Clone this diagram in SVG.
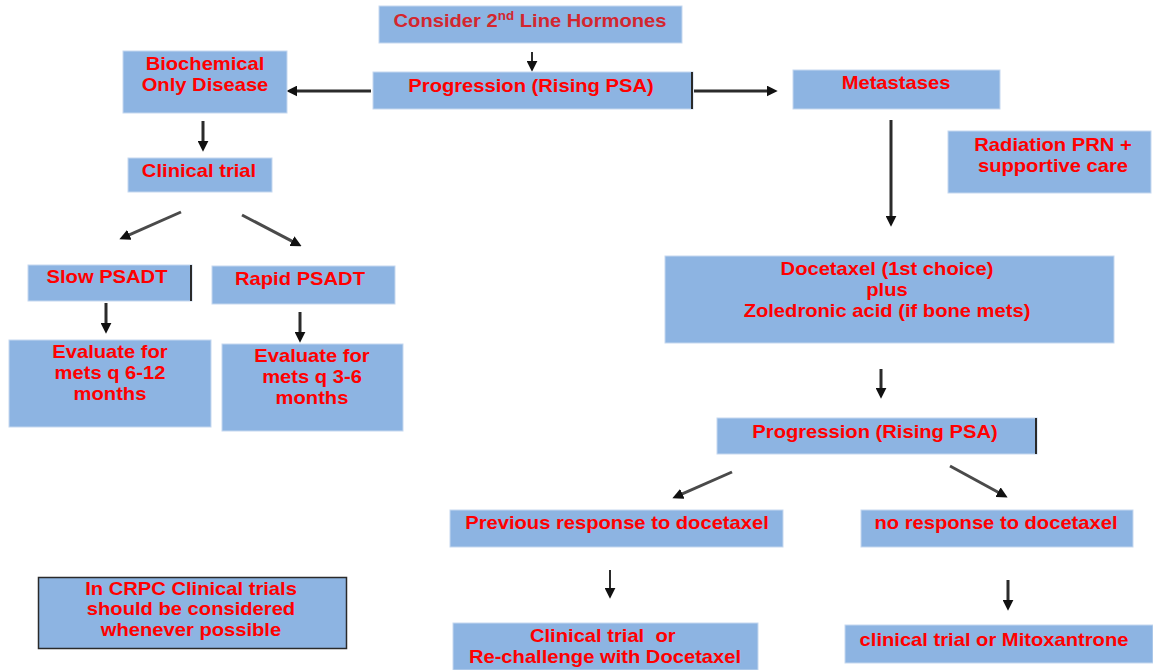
<svg xmlns="http://www.w3.org/2000/svg" width="1153" height="670" viewBox="0 0 1153 670">
<defs>
<marker id="ah" markerUnits="userSpaceOnUse" markerWidth="11" markerHeight="11" viewBox="0 0 10 10" refX="3" refY="5" orient="auto">
<path d="M0,0 L10,5 L0,10 z" fill="#111"/>
</marker>
<style>
.box{fill:#8DB4E2;stroke:#C5D8EF;stroke-width:1}
.t{font-family:"Liberation Sans",Arial,sans-serif;font-weight:bold;font-size:18px;fill:#FF0000;text-anchor:middle}
.t2{fill:#D4262E}
.edge{stroke:#2a2a2a;stroke-width:2;fill:none}
.c{stroke:#2b2b2b;stroke-width:3;fill:none;marker-end:url(#ah)}
.d{stroke:#4a4a4a;stroke-width:3;fill:none;marker-end:url(#ah)}
</style>
</defs>
<rect width="1153" height="670" fill="#ffffff"/>
<g id="connectors">
<path class="c" d="M532,52 L532,64" style="stroke-width:2"/>
<path class="c" d="M371,91 L294,91"/>
<path class="c" d="M694,91 L770,91"/>
<path class="c" d="M203,121 L203,144"/>
<path class="c" d="M891,120 L891,219"/>
<path class="d" d="M181,212 L126.4,236.2"/>
<path class="d" d="M242,215 L294.8,242.7"/>
<path class="c" d="M106,303 L106,326"/>
<path class="c" d="M300,312 L300,335"/>
<path class="c" d="M881,369 L881,391"/>
<path class="d" d="M732,472 L679.4,495.2"/>
<path class="d" d="M950,466 L1000.9,493.7"/>
<path class="c" d="M610,570 L610,591" style="stroke-width:2"/>
<path class="c" d="M1008,580 L1008,603"/>
</g>
<g id="n-consider">
<rect class="box" x="379" y="6" width="303" height="37"/>
<text class="t t2" transform="translate(530,27) scale(1.12,1)">Consider 2<tspan font-size="12" dy="-7">nd</tspan><tspan dy="7"> Line Hormones</tspan></text>
</g>
<g id="n-progression1">
<rect class="box" x="373" y="72" width="320" height="37"/>
<path class="edge" d="M692,72 L692,109"/>
<text class="t" transform="translate(531,92) scale(1.12,1)">Progression (Rising PSA)</text>
</g>
<g id="n-biochemical">
<rect class="box" x="123" y="51" width="164" height="62"/>
<text class="t" transform="translate(205,70) scale(1.12,1)"><tspan x="0" y="0">Biochemical</tspan><tspan x="0" y="21">Only Disease</tspan></text>
</g>
<g id="n-metastases">
<rect class="box" x="793" y="70" width="207" height="39"/>
<text class="t" transform="translate(896,89) scale(1.12,1)">Metastases</text>
</g>
<g id="n-radiation">
<rect class="box" x="948" y="131" width="203" height="62"/>
<text class="t" transform="translate(1053,151) scale(1.12,1)"><tspan x="0" y="0">Radiation PRN +</tspan><tspan x="0" y="21">supportive care</tspan></text>
</g>
<g id="n-clinical-trial">
<rect class="box" x="128" y="158" width="144" height="34"/>
<text class="t" transform="translate(199,177) scale(1.12,1)">Clinical trial</text>
</g>
<g id="n-slow">
<rect class="box" x="28" y="265" width="164" height="36"/>
<path class="edge" d="M191,265 L191,301"/>
<text class="t" transform="translate(107,283) scale(1.12,1)">Slow PSADT</text>
</g>
<g id="n-rapid">
<rect class="box" x="212" y="266" width="183" height="38"/>
<text class="t" transform="translate(300,285) scale(1.12,1)">Rapid PSADT</text>
</g>
<g id="n-eval-slow">
<rect class="box" x="9" y="340" width="202" height="87"/>
<text class="t" transform="translate(110,358) scale(1.12,1)"><tspan x="0" y="0">Evaluate for</tspan><tspan x="0" y="21">mets q 6-12</tspan><tspan x="0" y="42">months</tspan></text>
</g>
<g id="n-eval-rapid">
<rect class="box" x="222" y="344" width="181" height="87"/>
<text class="t" transform="translate(312,362) scale(1.12,1)"><tspan x="0" y="0">Evaluate for</tspan><tspan x="0" y="21">mets q 3-6</tspan><tspan x="0" y="42">months</tspan></text>
</g>
<g id="n-docetaxel">
<rect class="box" x="665" y="256" width="449" height="87"/>
<text class="t" transform="translate(887,275) scale(1.12,1)"><tspan x="0" y="0">Docetaxel (1st choice)</tspan><tspan x="0" y="21">plus</tspan><tspan x="0" y="42">Zoledronic acid (if bone mets)</tspan></text>
</g>
<g id="n-progression2">
<rect class="box" x="717" y="418" width="320" height="36"/>
<path class="edge" d="M1036,418 L1036,454"/>
<text class="t" transform="translate(875,438) scale(1.12,1)">Progression (Rising PSA)</text>
</g>
<g id="n-previous">
<rect class="box" x="450" y="510" width="333" height="37"/>
<text class="t" transform="translate(617,529) scale(1.12,1)">Previous response to docetaxel</text>
</g>
<g id="n-noresponse">
<rect class="box" x="861" y="510" width="272" height="37"/>
<text class="t" transform="translate(996,529) scale(1.12,1)">no response to docetaxel</text>
</g>
<g id="n-rechallenge">
<rect class="box" x="453" y="623" width="305" height="47"/>
<text class="t" xml:space="preserve" transform="translate(605,642) scale(1.12,1)"><tspan x="-2" y="0">Clinical trial  or</tspan><tspan x="0" y="21">Re-challenge with Docetaxel</tspan></text>
</g>
<g id="n-mitoxantrone">
<rect class="box" x="845" y="625" width="308" height="38"/>
<text class="t" transform="translate(994,646) scale(1.12,1)">clinical trial or Mitoxantrone</text>
</g>
<g id="n-crpc">
<rect x="38.5" y="577.5" width="308" height="71" fill="#8DB4E2" stroke="#2a2a2a" stroke-width="1.5"/>
<text class="t" transform="translate(191,595) scale(1.12,1)"><tspan x="0" y="0">In CRPC Clinical trials</tspan><tspan x="0" y="20.5">should be considered</tspan><tspan x="0" y="41">whenever possible</tspan></text>
</g>
</svg>
